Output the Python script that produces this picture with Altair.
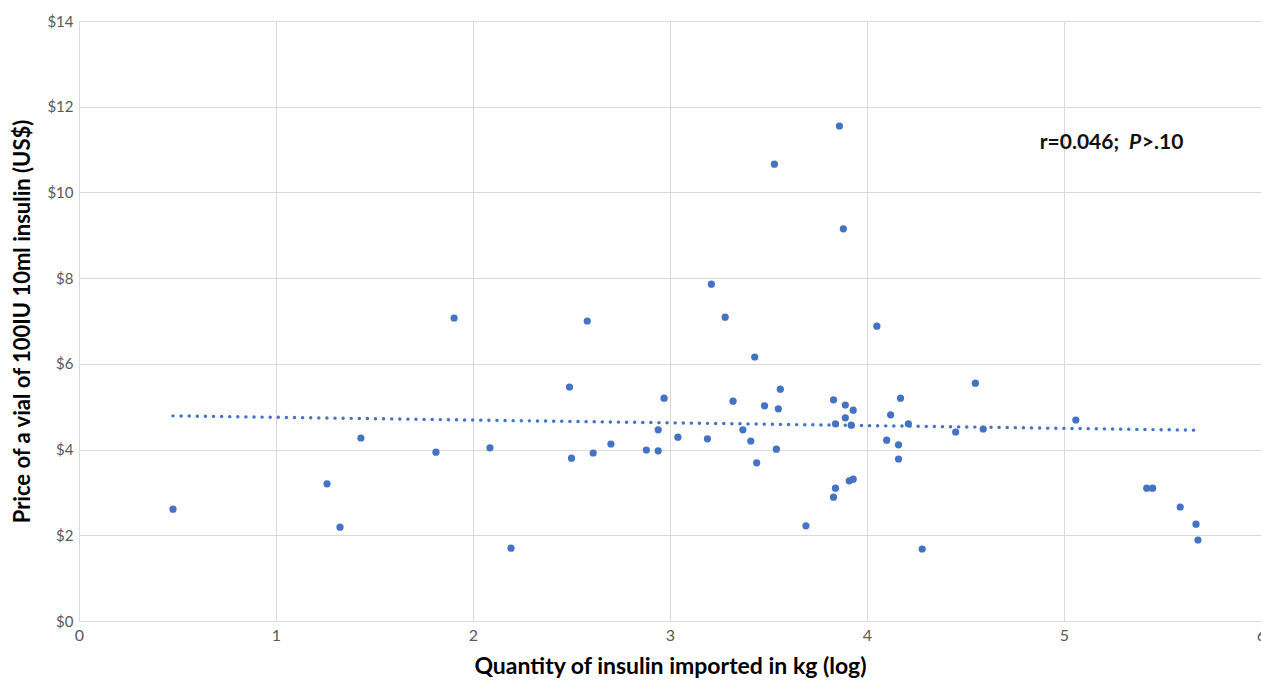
import altair as alt
import pandas as pd

# Quantity of insulin imported (log kg) and price per vial (US$)
qty_log = [0.477, 1.259, 1.325, 1.431, 1.812, 1.904, 2.086, 2.193, 2.49, 2.50,
           2.58, 2.61, 2.70, 2.88, 2.94, 2.94, 2.97, 3.04, 3.19, 3.21,
           3.28, 3.32, 3.37, 3.41, 3.43, 3.44, 3.48, 3.53, 3.54, 3.55,
           3.56, 3.69, 3.83, 3.84, 3.84, 3.83, 3.86, 3.88, 3.89, 3.89,
           3.91, 3.92, 3.93, 3.93, 4.05, 4.10, 4.12, 4.16, 4.16, 4.17,
           4.21, 4.28, 4.45, 4.55, 4.59, 5.06, 5.42, 5.45, 5.59, 5.67,
           5.68]
price = [2.61, 3.20, 2.19, 4.27, 3.94, 7.07, 4.04, 1.70, 5.46, 3.80,
         7.00, 3.92, 4.13, 3.99, 4.46, 3.97, 5.20, 4.29, 4.25, 7.86,
         7.09, 5.13, 4.46, 4.20, 6.16, 3.69, 5.02, 10.66, 4.01, 4.95,
         5.41, 2.22, 5.16, 4.60, 3.10, 2.89, 11.55, 9.15, 5.04, 4.74,
         3.27, 4.57, 4.92, 3.31, 6.88, 4.22, 4.81, 4.11, 3.78, 5.20,
         4.60, 1.68, 4.41, 5.55, 4.48, 4.69, 3.10, 3.10, 2.66, 2.26,
         1.89]

ann_text = ["r=0.046;", "P", ">.10"]
ann_style = ["normal", "italic", "normal"]
ann_align = ["right", "left", "left"]
ann_x = [5.28, 5.330, 5.395]
ann_y = [11.15, 11.15, 11.15]

df = pd.DataFrame({"x": qty_log, "y": price})
ann = pd.DataFrame({"t": ann_text, "s": ann_style, "a": ann_align, "x": ann_x, "y": ann_y})

BLUE = "#4472C4"
GRID = "#D9D9D9"
FONT = "Lato"

xs = alt.Scale(domain=[0, 6], nice=False)
ys = alt.Scale(domain=[0, 14], nice=False)

x_axis = alt.Axis(
    title="Quantity of insulin imported in kg (log)",
    values=[0, 1, 2, 3, 4, 5, 6], format="d", labelFlush=False,
    grid=True, gridColor=GRID, domainColor=GRID, ticks=False,
    labelFont=FONT, labelFontSize=16, labelColor="#595959", labelPadding=6,
    titleFont=FONT, titleFontSize=23, titleFontWeight="bold", titleColor="#000000",
    titleY=45, titleBaseline="middle",
)
y_axis = alt.Axis(
    title="Price  of a vial of 100IU 10ml insulin (US$)",
    values=[0, 2, 4, 6, 8, 10, 12, 14], format="$.0f", labelFlush=False,
    grid=True, gridColor=GRID, domainColor=GRID, ticks=False,
    labelFont=FONT, labelFontSize=15, labelColor="#595959", labelPadding=6,
    titleFont=FONT, titleFontSize=22, titleFontWeight="bold", titleColor="#000000",
    titleX=-57, titleY=300, titleAngle=270, titleBaseline="middle", titleAlign="center",
)

points = alt.Chart(df).mark_circle(size=52, color=BLUE, opacity=1).encode(
    x=alt.X("x:Q", scale=xs, axis=x_axis),
    y=alt.Y("y:Q", scale=ys, axis=y_axis),
)

trend = alt.Chart(df).transform_regression("x", "y").mark_line(
    color=BLUE, strokeWidth=3.4, strokeDash=[0.1, 8], strokeCap="round"
).encode(x=alt.X("x:Q", scale=xs), y=alt.Y("y:Q", scale=ys))

base_ann = alt.Chart(ann).encode(
    x=alt.X("x:Q", scale=xs),
    y=alt.Y("y:Q", scale=ys),
    text="t:N",
)
txt = dict(baseline="middle", font=FONT, fontSize=21, fontWeight="bold", color="#111111")
ann_right = base_ann.transform_filter(alt.datum.a == "right").mark_text(align="right", **txt)
ann_left = base_ann.transform_filter(
    (alt.datum.a == "left") & (alt.datum.s == "normal")
).mark_text(align="left", **txt)
ann_italic = base_ann.transform_filter(alt.datum.s == "italic").mark_text(
    align="left", fontStyle="italic", **txt
)

chart = alt.layer(trend, points, ann_right, ann_left, ann_italic).properties(
    width=1182, height=600,
    background="white",
    autosize=alt.AutoSizeParams(type="none"),
    padding={"left": 79, "top": 21, "right": 0, "bottom": 59},
).configure_view(stroke=None)

chart.save("out.html", embed_options={"renderer": "svg", "actions": False})
